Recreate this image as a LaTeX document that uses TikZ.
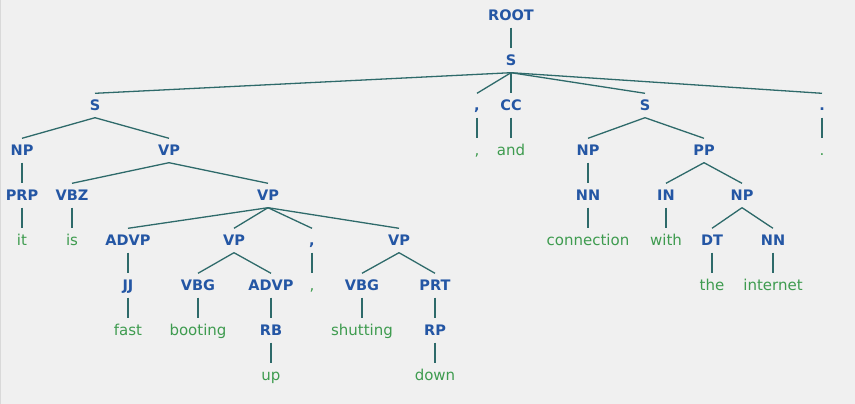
\documentclass[tikz,border=0pt]{standalone}
\usepackage{fontspec}
\setmainfont{DejaVu Sans}
\definecolor{labc}{HTML}{2456A4}
\definecolor{leafc}{HTML}{3E9B4F}
\definecolor{edgec}{HTML}{2E6A6A}
\definecolor{bgc}{HTML}{F0F0F0}
\begin{document}
\begin{tikzpicture}[x=1pt,y=-1pt,
 tn/.style={inner sep=0pt, minimum height=24pt, text height=10.6pt, text depth=0pt},
 lab/.style={tn, text=labc, font=\fontsize{14.5}{16}\selectfont\bfseries},
 lf/.style={tn, text=leafc, font=\fontsize{15}{16}\selectfont},
 br/.style={draw=edgec, line width=1.3pt}]
\fill[bgc] (0,0) rectangle (855,403);
\draw[black!15, line width=1pt] (0.5,0) -- (0.5,403);
% labels
\node[lab] (root) at (511,15) {ROOT};
\node[lab] (s) at (511,60) {S};
\node[lab] (s1) at (95,105) {S};
\node[lab] (cm1) at (477,105) {,};
\node[lab] (cc) at (511,105) {CC};
\node[lab] (s2) at (645,105) {S};
\node[lab] (pd) at (822,105) {.};
\node[lab] (np1) at (22,150) {NP};
\node[lab] (vp1) at (169,150) {VP};
\node[lf] (cm1l) at (477,150) {,};
\node[lf] (and) at (511,150) {and};
\node[lab] (np2) at (588,150) {NP};
\node[lab] (pp) at (704,150) {PP};
\node[lf] (pdl) at (822,150) {.};
\node[lab] (prp) at (22,195) {PRP};
\node[lab] (vbz) at (72,195) {VBZ};
\node[lab] (vp2) at (268,195) {VP};
\node[lab] (nn1) at (588,195) {NN};
\node[lab] (in) at (666,195) {IN};
\node[lab] (np3) at (742,195) {NP};
\node[lf] (it) at (22,240) {it};
\node[lf] (is) at (72,240) {is};
\node[lab] (advp1) at (128,240) {ADVP};
\node[lab] (vp3) at (234,240) {VP};
\node[lab] (cm2) at (312,240) {,};
\node[lab] (vp4) at (399,240) {VP};
\node[lf] (conn) at (588,240) {connection};
\node[lf] (with) at (666,240) {with};
\node[lab] (dt) at (712,240) {DT};
\node[lab] (nn2) at (773,240) {NN};
\node[lab] (jj) at (128,285) {JJ};
\node[lab] (vbg1) at (198,285) {VBG};
\node[lab] (advp2) at (271,285) {ADVP};
\node[lf] (cm2l) at (312,285) {,};
\node[lab] (vbg2) at (362,285) {VBG};
\node[lab] (prt) at (435,285) {PRT};
\node[lf] (the) at (712,285) {the};
\node[lf] (inet) at (773,285) {internet};
\node[lf] (fast) at (128,330) {fast};
\node[lf] (boot) at (198,330) {booting};
\node[lab] (rb) at (271,330) {RB};
\node[lf] (shut) at (362,330) {shutting};
\node[lab] (rp) at (435,330) {RP};
\node[lf] (up) at (271,375) {up};
\node[lf] (down) at (435,375) {down};
% edges
\foreach \a/\b in {root/s, s/s1, s/cm1, s/cc, s/s2, s/pd,
  s1/np1, s1/vp1, cm1/cm1l, cc/and, s2/np2, s2/pp, pd/pdl,
  np1/prp, vp1/vbz, vp1/vp2, np2/nn1, pp/in, pp/np3,
  prp/it, vbz/is, vp2/advp1, vp2/vp3, vp2/cm2, vp2/vp4,
  nn1/conn, in/with, np3/dt, np3/nn2,
  advp1/jj, vp3/vbg1, vp3/advp2, cm2/cm2l, vp4/vbg2, vp4/prt,
  dt/the, nn2/inet, jj/fast, vbg1/boot, advp2/rb, vbg2/shut, prt/rp,
  rb/up, rp/down}
  \draw[br] (\a.south) -- (\b.north);
\end{tikzpicture}
\end{document}
